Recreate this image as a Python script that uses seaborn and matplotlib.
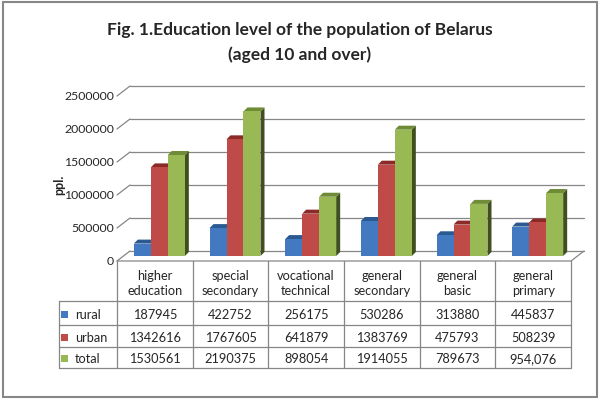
# ==========================================================
# EDUCATION LEVEL OF THE POPULATION OF BELARUS
# 3D-STYLE COLUMN CHART WITH DATA TABLE
# ==========================================================

import numpy as np
import pandas as pd

import matplotlib
matplotlib.use("Agg")
import matplotlib.pyplot as plt
from matplotlib.patches import Polygon, Rectangle

import seaborn as sns

# ==========================================================
# DATA
# ==========================================================

categories = [
    "higher\neducation",
    "special\nsecondary",
    "vocational\ntechnical",
    "general\nsecondary",
    "general\nbasic",
    "general\nprimary",
]

series = ["rural", "urban", "total"]

rural = [187945, 422752, 256175, 530286, 313880, 445837]
urban = [1342616, 1767605, 641879, 1383769, 475793, 508239]
total = [1530561, 2190375, 898054, 1914055, 789673, 954076]

y_ticks = [0, 500000, 1000000, 1500000, 2000000, 2500000]

title_lines = ["Fig. 1.Education level of the population of Belarus",
               "(aged 10 and over)"]

# ==========================================================
# STYLE
# ==========================================================

sns.set_style("white")
plt.rcParams["font.family"] = ["Lato", "DejaVu Sans"]

front_colors = ["#4279C0", "#BE4B48", "#98B954"]
top_colors = ["#2B5A93", "#8C2A28", "#6E8B35"]
side_colors = ["#1F3F66", "#5E1C1B", "#3F4F1E"]
grid_color = "#868686"

TICK = 8.8
CELL = 9.2

# pixel size of one data unit in the main axes
PX_X = 454 / 6
PX_Y = 165 / 2.5e6
DEPTH = 4


def off(x, y, dx, dy):
    return x + dx / PX_X, y + dy / PX_Y


# ==========================================================
# LONG TABLE FOR SEABORN
# ==========================================================

values = [rural, urban, total]

df = pd.DataFrame({
    "level": np.tile(categories, 3),
    "group": np.repeat(series, len(categories)),
    "people": np.concatenate(values),
})

# ==========================================================
# FIGURE
# ==========================================================

fig = plt.figure(figsize=(6, 4.02), dpi=100)

ax = fig.add_axes([123.5 / 600, 145 / 402, 454 / 600, 165 / 402])

sns.barplot(
    data=df,
    x="level",
    y="people",
    hue="group",
    hue_order=series,
    order=categories,
    palette=front_colors,
    saturation=1,
    width=0.674,
    linewidth=0,
    legend=False,
    ax=ax,
)

ax.set_xlim(-0.5, 5.5)
ax.set_ylim(0, 2.5e6)
ax.axis("off")

# ==========================================================
# WALLS AND FLOOR
# ==========================================================

for v in y_ticks:
    x0, y0 = off(-0.5, v, 6.5, 5)
    x1, y1 = off(5.5, v, 6.5, 5)
    ax.plot([x0, x1], [y0, y1], color=grid_color, lw=0.9, zorder=0.5,
            clip_on=False)
    fx, fy = off(-0.5, v, -6.5, -5)
    ax.plot([fx, x0], [fy, y0], color=grid_color, lw=0.9, zorder=0.5,
            clip_on=False)
    tx, ty = off(-0.5, v, -9.5, -5)
    ax.text(tx, ty, f"{v}", ha="right", va="center", fontsize=TICK)

fl = off(-0.5, 0, -6.5, -5)
fr = off(5.5, 0, -6.5, -5)
br = off(5.5, 0, 6.5, 5)
ax.plot([fl[0], fr[0], br[0]], [fl[1], fr[1], br[1]], color=grid_color,
        lw=0.9, zorder=0.5, clip_on=False)

# ==========================================================
# 3D BAR FACES
# ==========================================================

for k, container in enumerate(ax.containers):
    for bar in container:
        bar.set_x(bar.get_x() - 2 / PX_X)
        bar.set_zorder(3)
        x = bar.get_x()
        w = bar.get_width()
        h = bar.get_height()
        side = [(x + w, 0), (x + w, h),
                off(x + w, h, DEPTH, DEPTH), off(x + w, 0, DEPTH, DEPTH)]
        top = [(x, h), (x + w, h),
               off(x + w, h, DEPTH, DEPTH), off(x, h, DEPTH, DEPTH)]
        ax.add_patch(Polygon(side, closed=True, fc=side_colors[k], lw=0,
                             zorder=2, clip_on=False))
        ax.add_patch(Polygon(top, closed=True, fc=top_colors[k], lw=0,
                             zorder=2, clip_on=False))

# ==========================================================
# DATA TABLE
# ==========================================================

tax = fig.add_axes([117 / 600, 33 / 402, 454 / 600, 107 / 402])
tax.set_xlim(-0.5, 5.5)
tax.set_ylim(107, 0)
tax.axis("off")

row_edges = [0, 40, 64, 86, 107]
leg_left = -0.5 - 58 / PX_X

for i in range(len(categories) + 1):
    tax.plot([i - 0.5, i - 0.5], [0, 107], color=grid_color, lw=0.9,
             clip_on=False)
tax.plot([leg_left, leg_left], [40, 107], color=grid_color, lw=0.9,
         clip_on=False)
for e in row_edges[1:]:
    tax.plot([leg_left, 5.5], [e, e], color=grid_color, lw=0.9,
             clip_on=False)

for i, label in enumerate(categories):
    tax.text(i, 21.5, label, ha="center", va="center", fontsize=CELL,
             linespacing=1.35)

cell_text = [[str(v) for v in s] for s in values]
cell_text[2][5] = "954,076"

for r, name in enumerate(series):
    yc = (row_edges[r + 1] + row_edges[r + 2]) / 2 + 1
    for i, txt in enumerate(cell_text[r]):
        tax.text(i, yc, txt, ha="center", va="center", fontsize=CELL)
    mx = -0.5 - 52 / PX_X
    mw = 7 / PX_X
    tax.add_patch(Rectangle((mx - mw / 2, yc - 3.5), mw, 7,
                            fc=front_colors[r], lw=0, clip_on=False))
    tax.text(-0.5 - 42 / PX_X, yc, name, ha="left", va="center",
             fontsize=CELL)

# ==========================================================
# TITLE, AXIS LABEL, FRAME
# ==========================================================

fig.text(0.5, 1 - 30 / 402, title_lines[0], ha="center", va="center",
         fontsize=12.5, fontweight="bold")
fig.text(0.5, 1 - 55 / 402, title_lines[1], ha="center", va="center",
         fontsize=12.5, fontweight="bold")

fig.text(59 / 600, 1 - 185 / 402, "ppl.", rotation=90, ha="center",
         va="center", fontsize=9, fontweight="bold")

fig.add_artist(Rectangle((3 / 600, 4 / 402), 594 / 600, 395 / 402,
                         transform=fig.transFigure, fill=False,
                         ec="#878787", lw=1.5))

fig.savefig("out.png", dpi=100)
